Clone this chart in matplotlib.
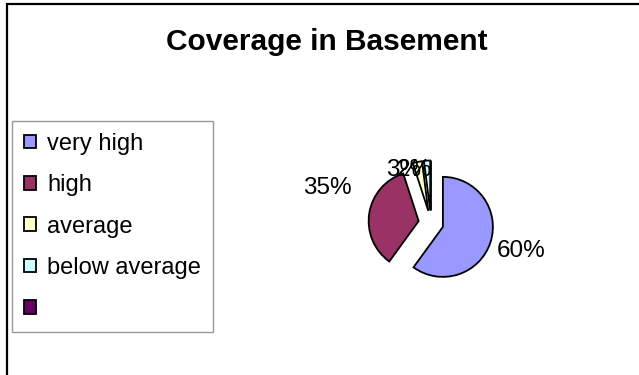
import numpy as np
import matplotlib.pyplot as plt
from matplotlib.patches import Rectangle

categories = ['very high', 'high', 'average', 'below average', '']
values = [60, 35, 3, 2, 0]
colors = ['#9999FF', '#993366', '#FFFFCC', '#CCFFFF', '#660066']

W, H = 639, 375
fig = plt.figure(figsize=(W / 100, H / 100), dpi=100)
plt.rcParams['font.family'] = ['Liberation Sans', 'DejaVu Sans']

# outer chart frame (only top/left edges fall inside the image)
fig.patches.append(Rectangle((7 / W, -0.1), 1.2, 1 - 4 / H + 0.1,
                             transform=fig.transFigure, fill=False,
                             edgecolor='black', linewidth=1.6))

fig.text(327 / W, 1 - 50 / H, 'Coverage in Basement', ha='center',
         va='baseline', fontsize=21.5, fontweight='bold')

# pie axes: 1 data unit = 50 px, centre at (431, 223)
cx, cy, r = 431, 223, 50
ax = fig.add_axes([(cx - 4 * r) / W, 1 - (cy + 4 * r) / H, 8 * r / W, 8 * r / H])
ax.axis('off')

explode = 0.25
wedges, _ = ax.pie(values, colors=colors, startangle=90, counterclock=False,
                   explode=[explode] * len(values), radius=1,
                   wedgeprops=dict(edgecolor='black', linewidth=1.3))
ax.set_xlim(-4, 4)
ax.set_ylim(-4, 4)

# percent labels: distance from centre and angle nudge per slice
label_place = [(1.43, -5, 'left'), (1.73, -15, 'right'),
               (1.08, -2, 'right'), (1.06, -4.7, 'right')]
for w, v, (dist, shift, ha) in zip(wedges, values, label_place):
    mid = np.deg2rad((w.theta1 + w.theta2) / 2 + shift)
    ax.text(dist * np.cos(mid), dist * np.sin(mid), f'{v}%', ha=ha,
            va='center', fontsize=17.5)

leg = fig.legend(wedges, categories, loc='upper left',
                 bbox_to_anchor=(12 / W, 1 - 121 / H),
                 fontsize=17, frameon=True, fancybox=False,
                 edgecolor='#808080', handlelength=0.5, handleheight=0.5,
                 handletextpad=0.5, labelspacing=0.82, borderpad=0.5,
                 borderaxespad=0)
leg.get_frame().set_linewidth(1.0)

fig.savefig('out.png', dpi=100)
